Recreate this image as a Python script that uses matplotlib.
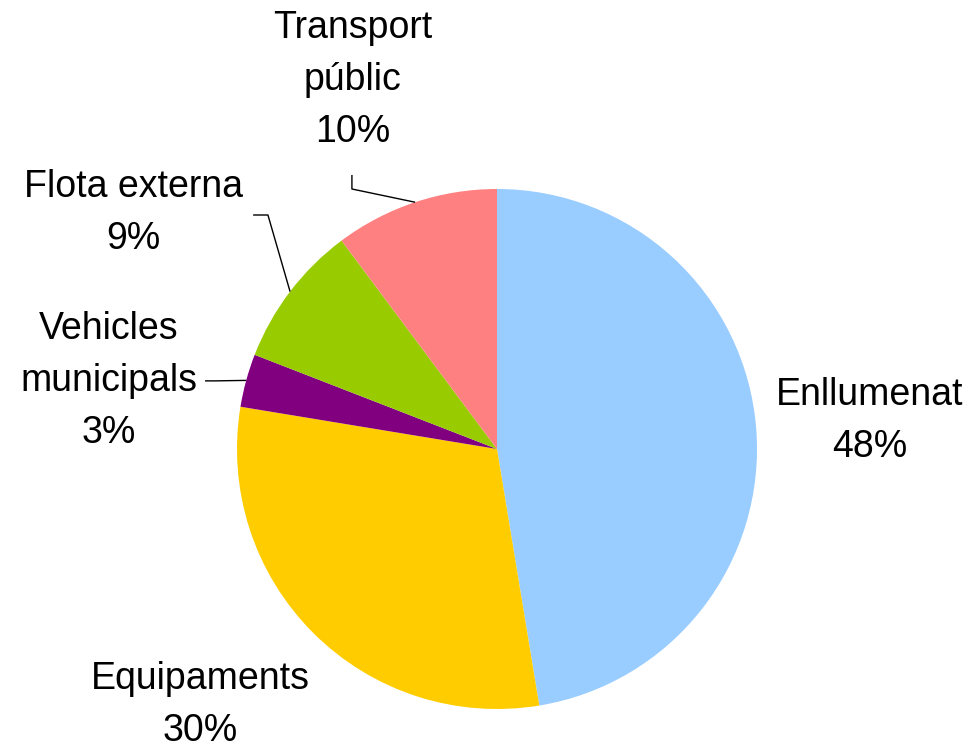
import matplotlib
matplotlib.use("Agg")
import matplotlib.pyplot as plt
import numpy as np

categories = ["Enllumenat", "Equipaments", "Vehicles\nmunicipals", "Flota externa", "Transport\npúblic"]
values = [47.4, 30.2, 3.3, 8.9, 10.2]
pct_labels = ["48%", "30%", "3%", "9%", "10%"]
colors = ["#99CCFF", "#FFCC00", "#800080", "#99CC00", "#FF8080"]

plt.rcParams['font.family'] = ['Liberation Sans', 'DejaVu Sans']

W, H = 969, 748
fig = plt.figure(figsize=(W / 100, H / 100), dpi=100)
cx, cy, R = 497, 449, 260
ax = fig.add_axes([(cx - R) / W, (H - cy - R) / H, 2 * R / W, 2 * R / H])
ax.set_xlim(-1, 1)
ax.set_ylim(-1, 1)
ax.set_aspect('equal')
ax.axis('off')

wedges, _ = ax.pie(values, colors=colors, startangle=90, counterclock=False,
                   radius=1, wedgeprops=dict(linewidth=0))
ax.set_xlim(-1, 1)
ax.set_ylim(-1, 1)

# label text positions (data coords) and leader elbows
text_pos = [(1.435, 0.108), (-1.142, -0.985), (-1.492, 0.262), (-1.40, 0.908), (-0.554, 1.419)]
leaders = {
    2: [(-1.085, 0.262), (-1.123, 0.262)],
    3: [(-0.881, 0.90), (-0.938, 0.90)],
    4: [(-0.558, 1.0), (-0.558, 1.054)],
}

for i, w in enumerate(wedges):
    txt = categories[i] + "\n" + pct_labels[i]
    ax.text(text_pos[i][0], text_pos[i][1], txt, ha='center', va='center',
            fontsize=27, linespacing=1.56, clip_on=False, color='black')
    if i in leaders:
        mid = np.deg2rad((w.theta1 + w.theta2) / 2)
        p0 = (np.cos(mid) * 1.0, np.sin(mid) * 1.0)
        pts = [p0] + leaders[i]
        xs, ys = zip(*pts)
        ax.plot(xs, ys, color='black', lw=1.0, clip_on=False, solid_capstyle='butt')

fig.savefig("out.png", dpi=100, facecolor='white')
